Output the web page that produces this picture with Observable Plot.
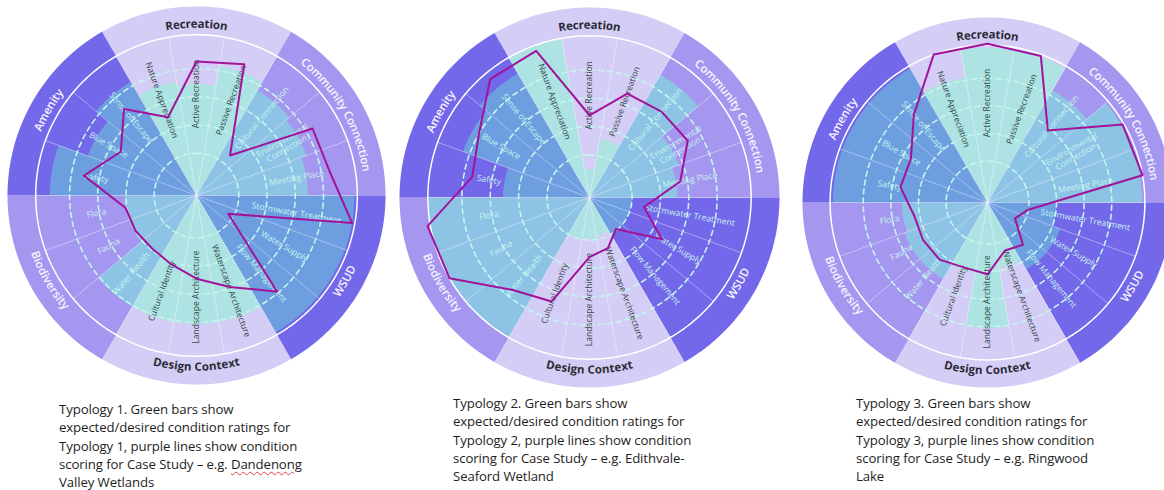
<!DOCTYPE html>
<html>
<head>
<meta charset="utf-8">
<script src="https://cdn.jsdelivr.net/npm/d3@7"></script>
<script src="https://cdn.jsdelivr.net/npm/@observablehq/plot@0.6"></script>
<style>
  body { margin: 0; background: #ffffff; }
  #page { position: relative; width: 1164px; height: 490px; overflow: hidden; background: #ffffff; }
  .chart { position: absolute; }
  .caption { position: absolute; font-family: "Open Sans", sans-serif; font-size: 13.2px; line-height: 18.3px; color: #1e1e1e; white-space: nowrap; letter-spacing: -0.1px; }
  .spell { text-decoration: underline wavy #e04040; text-decoration-thickness: 1px; text-underline-offset: 2px; }
</style>
</head>
<body>
<div id="page"></div>
<script>
// ---------------- data ----------------
const categories = ["Recreation", "Community Connection", "WSUD", "Design Context", "Biodiversity", "Amenity"];
const categoryTone = ["light", "medium", "dark", "light", "medium", "dark"];
const subcategories = [
  "Nature Appreciation", "Active Recreation", "Passive Recreation",
  "Cultural Connection", "Environmental\nConnection", "Meeting Place",
  "Stormwater Treatment", "Water Supply", "Flow Management",
  "Waterscape Architecture", "Landscape Architecture", "Cultural Identity",
  "Water Health", "Fauna", "Flora",
  "Safety", "Blue Space", "Sense of Escape"
];
const ringValues = [1, 2, 3, 4];

// green bars: expected/desired condition ratings
const typology1Expected = [3.6, 3.45, 4.15, 3.8, 3.65, 3.45, 5.1, 5.1, 5.1, 4.05, 4.05, 4.05, 4.05, 2.05, 2.05, 4.7, 3.6, 4.15];
const typology2Expected = [5.2, 0.5, 1.6, 4.5, 2.85, 2.6, 1.0, 1.0, 1.0, 0.85, 0.95, 1.0, 5.2, 5.2, 5.2, 2.55, 4.25, 4.55];
const typology3Expected = [4.1, 5.1, 5.1, 4.2, 5.1, 5.1, 2.0, 2.3, 2.3, 1.9, 4.05, 2.1, 2.7, 2.7, 2.6, 5.1, 5.1, 5.1];
// purple lines: condition scoring for case study
const typology1Case = [2.45, 4.25, 4.45, 1.35, 4.25, 4.3, 5.1, 0.8, 3.95, 2.95, 2.45, 2.1, 1.95, 2.0, 2.05, 3.55, 2.6, 3.5];
const typology2Case = [5.0, 2.4, 3.4, 3.45, 3.5, 2.75, 1.45, 2.45, 0.95, 1.4, 1.6, 3.4, 3.75, 5.2, 5.3, 3.7, 4.0, 4.95];
const typology3Case = [5.2, 5.25, 5.15, 2.9, 5.15, 5.2, 1.0, 0.65, 1.5, 1.35, 2.1, 2.0, 2.2, 2.2, 2.2, 2.7, 2.7, 3.65];

const caption1 = ["Typology 1. Green bars show", "expected/desired condition ratings for", "Typology 1, purple lines show condition", "scoring for Case Study – e.g. |Dandenong|", "Valley Wetlands"];
const caption2 = ["Typology 2. Green bars show", "expected/desired condition ratings for", "Typology 2, purple lines show condition", "scoring for Case Study – e.g. Edithvale-", "Seaford Wetland"];
const caption3 = ["Typology 3. Green bars show", "expected/desired condition ratings for", "Typology 3, purple lines show condition", "scoring for Case Study – e.g. Ringwood", "Lake"];

// ---------------- style / layout ----------------
const palette = {
  base: {light: "#d4cdf6", medium: "#a597f0", dark: "#7367ea"},
  bar: {light: "#ade3e3", medium: "#8dc4e6", dark: "#6d9fe0"},
  labelDark: "#34474a", labelLight: "#c7f3ee",
  ring: "#c6f5ee", line: "#a1149a"
};
const geom = {offset: 0.5, white: 5.7, outer: 6.7, labelU: 3.6, catU: 6.08};
const charts = [
  {cx: 195.5, cy: 195, R: 189, expected: typology1Expected, scores: typology1Case},
  {cx: 589, cy: 197, R: 190, expected: typology2Expected, scores: typology2Case},
  {cx: 987, cy: 202, R: 185, expected: typology3Expected, scores: typology3Case}
];
const captions = [
  {lines: caption1, left: 59, top: 400},
  {lines: caption2, left: 453, top: 394},
  {lines: caption3, left: 856, top: 394}
];

// ---------------- helpers ----------------
function polar(u, deg) { const a = deg * Math.PI / 180; return [u * Math.sin(a), u * Math.cos(a)]; }
function arc(u, a0, a1) {
  const n = Math.max(2, Math.ceil(Math.abs(a1 - a0) / 1.5) + 1);
  return d3.range(n).map(i => polar(u, a0 + (a1 - a0) * i / (n - 1)));
}
function sectorPoly(id, u0, u1, a0, a1, fill) {
  const pts = u0 > 0 ? [...arc(u1, a0, a1), ...arc(u0, a1, a0)] : [[0, 0], ...arc(u1, a0, a1)];
  return pts.map(([x, y]) => ({id, x, y, fill}));
}
const subMid = i => (340 + 20 * i) % 360;
const catMid = j => 60 * j;
const measureCtx = document.createElement("canvas").getContext("2d");

function curvedChars(label, centerDeg, u, k, font, fill) {
  measureCtx.font = font;
  const chars = Array.from(label);
  const widths = chars.map(c => measureCtx.measureText(c).width);
  const total = d3.sum(widths);
  const rpx = u * k;
  const top = Math.cos(centerDeg * Math.PI / 180) > 0;
  let acc = 0;
  const out = [];
  chars.forEach((c, i) => {
    const s = acc + widths[i] / 2 - total / 2;
    acc += widths[i];
    if (c === " ") return;
    const ang = centerDeg + (top ? 1 : -1) * s / rpx * 180 / Math.PI;
    const [x, y] = polar(u, ang);
    out.push({text: c, x, y, rotate: top ? ang : ang - 180, fill});
  });
  return out;
}

function drawChart(spec) {
  const k = spec.R / geom.outer;
  const S = Math.ceil(2 * spec.R + 6);
  const U = S / 2 / k;

  const sectors = categories.flatMap((c, j) =>
    sectorPoly("c" + j, 0, geom.outer, catMid(j) - 30, catMid(j) + 30, palette.base[categoryTone[j]]));
  const bars = subcategories.flatMap((s, i) =>
    sectorPoly("b" + i, 0, spec.expected[i] + geom.offset, subMid(i) - 10, subMid(i) + 10, palette.bar[categoryTone[Math.floor(i / 3)]]));
  const spokes = subcategories.map((s, i) => {
    const [x2, y2] = polar(geom.white, subMid(i) - 10);
    return {x2, y2};
  });
  const rings = ringValues.flatMap(v => arc(v + geom.offset, 0, 360).map(([x, y]) => ({id: v, x, y})));
  const white = arc(geom.white, 0, 360).map(([x, y]) => ({x, y}));
  const subLabels = subcategories.map((s, i) => {
    const a = subMid(i);
    const [x, y] = polar(geom.labelU, a);
    const tone = categoryTone[Math.floor(i / 3)];
    return {text: s, x, y, rotate: a < 180 ? a - 90 : a + 90, fill: tone === "light" ? palette.labelDark : palette.labelLight};
  });
  const catChars = categories.flatMap((c, j) => {
    const light = categoryTone[j] === "light";
    const font = `${light ? "bold" : "600"} 11.5px "Open Sans"`;
    return curvedChars(c, catMid(j), geom.catU, k, font, light ? "#2b2b33" : "#f6f4ff")
      .map(d => ({...d, weight: light ? "bold" : "600"}));
  });
  const scoreLine = subcategories.map((s, i) => {
    const [x, y] = polar(spec.scores[i] + geom.offset, subMid(i));
    return {x, y};
  });

  const svg = Plot.plot({
    width: S, height: S, margin: 0,
    x: {domain: [-U, U], range: [0, S], axis: null},
    y: {domain: [-U, U], range: [S, 0], axis: null},
    color: {type: "identity"},
    style: {background: "transparent", overflow: "visible"},
    marks: [
      Plot.line(sectors, {x: "x", y: "y", z: "id", fill: "fill", stroke: null, curve: "linear-closed"}),
      Plot.line(bars, {x: "x", y: "y", z: "id", fill: "fill", stroke: null, curve: "linear-closed"}),
      Plot.link(spokes, {x1: d => 0, y1: d => 0, x2: "x2", y2: "y2", stroke: "#ffffff", strokeOpacity: 0.5, strokeWidth: 0.8}),
      Plot.line(rings, {x: "x", y: "y", z: "id", stroke: palette.ring, strokeWidth: 1.6, strokeDasharray: "5,4", curve: "linear-closed"}),
      Plot.line(white, {x: "x", y: "y", stroke: "#ffffff", strokeWidth: 1.5, curve: "linear-closed"}),
      Plot.text(subLabels, {x: "x", y: "y", text: "text", rotate: "rotate", fill: "fill", fontFamily: "Open Sans", fontSize: 8.5, textAnchor: "middle", lineAnchor: "middle", lineHeight: 1.05}),
      Plot.text(catChars.filter(d => d.weight === "bold"), {x: "x", y: "y", text: "text", rotate: "rotate", fill: "fill", fontFamily: "Open Sans", fontWeight: "bold", fontSize: 11.5, textAnchor: "middle", lineAnchor: "middle"}),
      Plot.text(catChars.filter(d => d.weight !== "bold"), {x: "x", y: "y", text: "text", rotate: "rotate", fill: "fill", fontFamily: "Open Sans", fontWeight: 600, fontSize: 11.5, textAnchor: "middle", lineAnchor: "middle"}),
      Plot.line(scoreLine, {x: "x", y: "y", stroke: palette.line, strokeWidth: 2, curve: "linear-closed"})
    ]
  });
  svg.classList.add("chart");
  svg.style.left = (spec.cx - S / 2) + "px";
  svg.style.top = (spec.cy - S / 2) + "px";
  return svg;
}

const page = document.getElementById("page");
charts.forEach(spec => page.appendChild(drawChart(spec)));
captions.forEach(c => {
  const div = document.createElement("div");
  div.className = "caption";
  div.style.left = c.left + "px";
  div.style.top = c.top + "px";
  div.innerHTML = c.lines.map(l => l.split("|").map((part, i) => i % 2 ? `<span class="spell">${part}</span>` : part).join("")).join("<br>");
  page.appendChild(div);
});
</script>
</body>
</html>
